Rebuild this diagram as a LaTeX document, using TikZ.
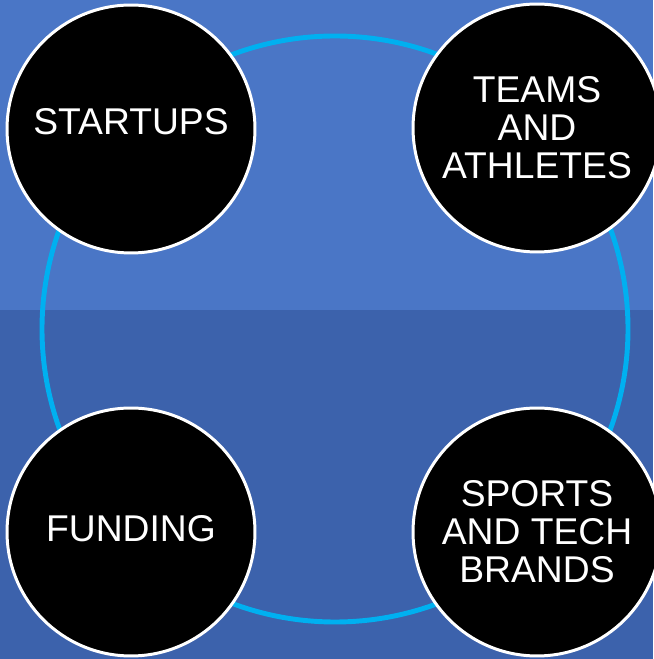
\documentclass[tikz,border=0pt]{standalone}
\usepackage{fontspec}
\setmainfont{Liberation Sans}
\definecolor{skyup}{RGB}{74,118,198}
\definecolor{skydown}{RGB}{60,98,172}
\definecolor{ringblue}{RGB}{0,176,240}
\begin{document}
\begin{tikzpicture}[x=0.02cm,y=0.02cm,
  hub/.style={circle,fill=black,draw=white,line width=1.7pt,minimum size=4.96cm,inner sep=0pt,
    text=white,align=center,font=\fontsize{21.2}{21.6}\selectfont},
  ring/.style={draw=ringblue,line width=2.8pt}]
\useasboundingbox (0,0) rectangle (653,659);
\fill[skyup] (0,349) rectangle (653,659);
\fill[skydown] (0,0) rectangle (653,349);
\draw[ring] (335,330) circle (293);
\node[hub] (startups) at (131,530) {\raisebox{9pt}{STARTUPS}};
\node[hub] (teams) at (537,531) {TEAMS\\AND\\ATHLETES};
\node[hub] (funding) at (131,127) {\raisebox{4.5pt}{FUNDING}};
\node[hub] (brands) at (537,127) {SPORTS\\AND TECH\\BRANDS};
\end{tikzpicture}
\end{document}
